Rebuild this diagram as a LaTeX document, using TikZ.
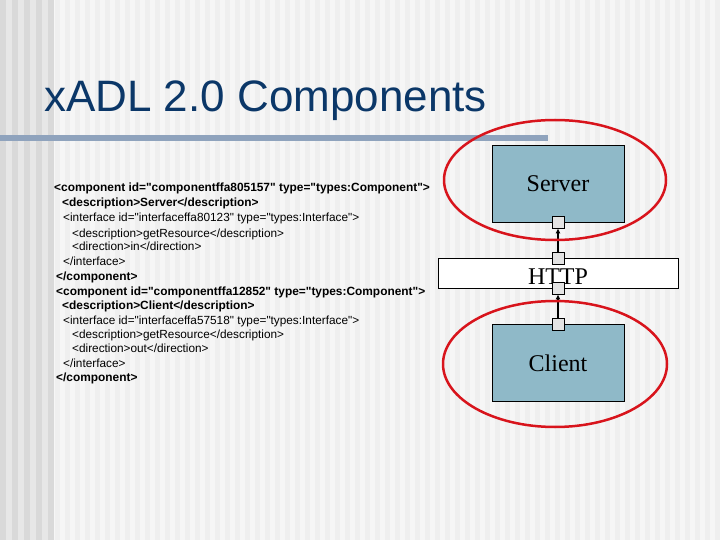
\documentclass[tikz,border=0pt]{standalone}
\usepackage{fontspec}
\setmainfont{Liberation Sans}
\newfontfamily\xmlfont{Liberation Sans}
\newfontfamily\timesfont{Liberation Serif}
\usetikzlibrary{arrows.meta}
\definecolor{titleblue}{HTML}{0B3768}
\definecolor{barblue}{HTML}{8FA3BD}
\definecolor{boxblue}{HTML}{8FB9C8}
\definecolor{ringred}{HTML}{D8141C}
\definecolor{bglight}{HTML}{EFEFEF}
\definecolor{bgstripe}{HTML}{F6F6F6}
\definecolor{banddark}{HTML}{D9D9D9}
\definecolor{bandlight}{HTML}{E7E7E7}
\definecolor{portgrey}{HTML}{E4E4E4}

\begin{document}
\begin{tikzpicture}[x=1pt,y=-1pt,
  comp/.style={draw, fill=boxblue, minimum width=132pt, minimum height=77pt, inner sep=0pt, font=\timesfont\fontsize{24}{24}\selectfont},
  conn/.style={draw, fill=white, minimum width=240pt, minimum height=30pt, inner sep=0pt, text height=22pt, font=\timesfont\fontsize{24}{24}\selectfont},
  port/.style={draw, fill=portgrey, minimum size=12pt, inner sep=0pt},
  ring/.style={draw=ringred, line width=2.5pt},
  xmlb/.style={anchor=base west, inner sep=0pt, font=\xmlfont\bfseries\fontsize{11.9}{12}\selectfont},
  xmln/.style={anchor=base west, inner sep=0pt, font=\xmlfont\fontsize{11.8}{12}\selectfont}]
\useasboundingbox (0,0) rectangle (720,540);
\fill[bglight] (0,0) rectangle (720,540);
\foreach \x in {50,60,...,710} \fill[bgstripe] (\x,0) rectangle ++(5,540);
\fill[bandlight] (0,0) rectangle (52,540);
\foreach \x in {0,12,...,48} \fill[banddark] (\x,0) rectangle ++(6,540);

\node[anchor=base west, inner sep=0pt, text=titleblue, font=\fontsize{44}{44}\selectfont] (title) at (44,112) {xADL 2.0 Components};
\fill[barblue] (0,135) rectangle (548,141);

\node[xmlb] (l1) at (54,192) {<component id="componentffa805157" type="types:Component">};
\node[xmlb] (l2) at (62,207) {<description>Server</description>};
\node[xmln] (l3) at (63,222) {<interface id="interfaceffa80123" type="types:Interface">};
\node[xmln] (l4) at (72,237) {<description>getResource</description>};
\node[xmln] (l5) at (72,251) {<direction>in</direction>};
\node[xmln] (l6) at (63,265) {</interface>};
\node[xmlb] (l7) at (56,280) {</component>};
\node[xmlb] (l8) at (56,295) {<component id="componentffa12852" type="types:Component">};
\node[xmlb] (l9) at (62,309) {<description>Client</description>};
\node[xmln] (l10) at (63,324) {<interface id="interfaceffa57518" type="types:Interface">};
\node[xmln] (l11) at (72,338) {<description>getResource</description>};
\node[xmln] (l12) at (72,352) {<direction>out</direction>};
\node[xmln] (l13) at (63,367) {</interface>};
\node[xmlb] (l14) at (56,381) {</component>};

\node[comp] (server) at (558,183.5) {Server};
\node[conn] (http) at (558,273) {HTTP};
\node[comp] (client) at (558,363) {Client};
\node[port] (sp) at (server.south) {};
\node[port] (hp1) at (http.north) {};
\node[port] (hp2) at (http.south) {};
\node[port] (cp) at (client.north) {};
\draw[line width=1.5pt, -{Latex[length=5pt,width=5pt]}] (hp1) -- (sp);
\draw[line width=1.5pt, -{Latex[length=5pt,width=5pt]}] (cp) -- (hp2);

\draw[ring] (555,180) ellipse [x radius=111, y radius=60];
\draw[ring] (555,364) ellipse [x radius=112, y radius=63];
\end{tikzpicture}
\end{document}
